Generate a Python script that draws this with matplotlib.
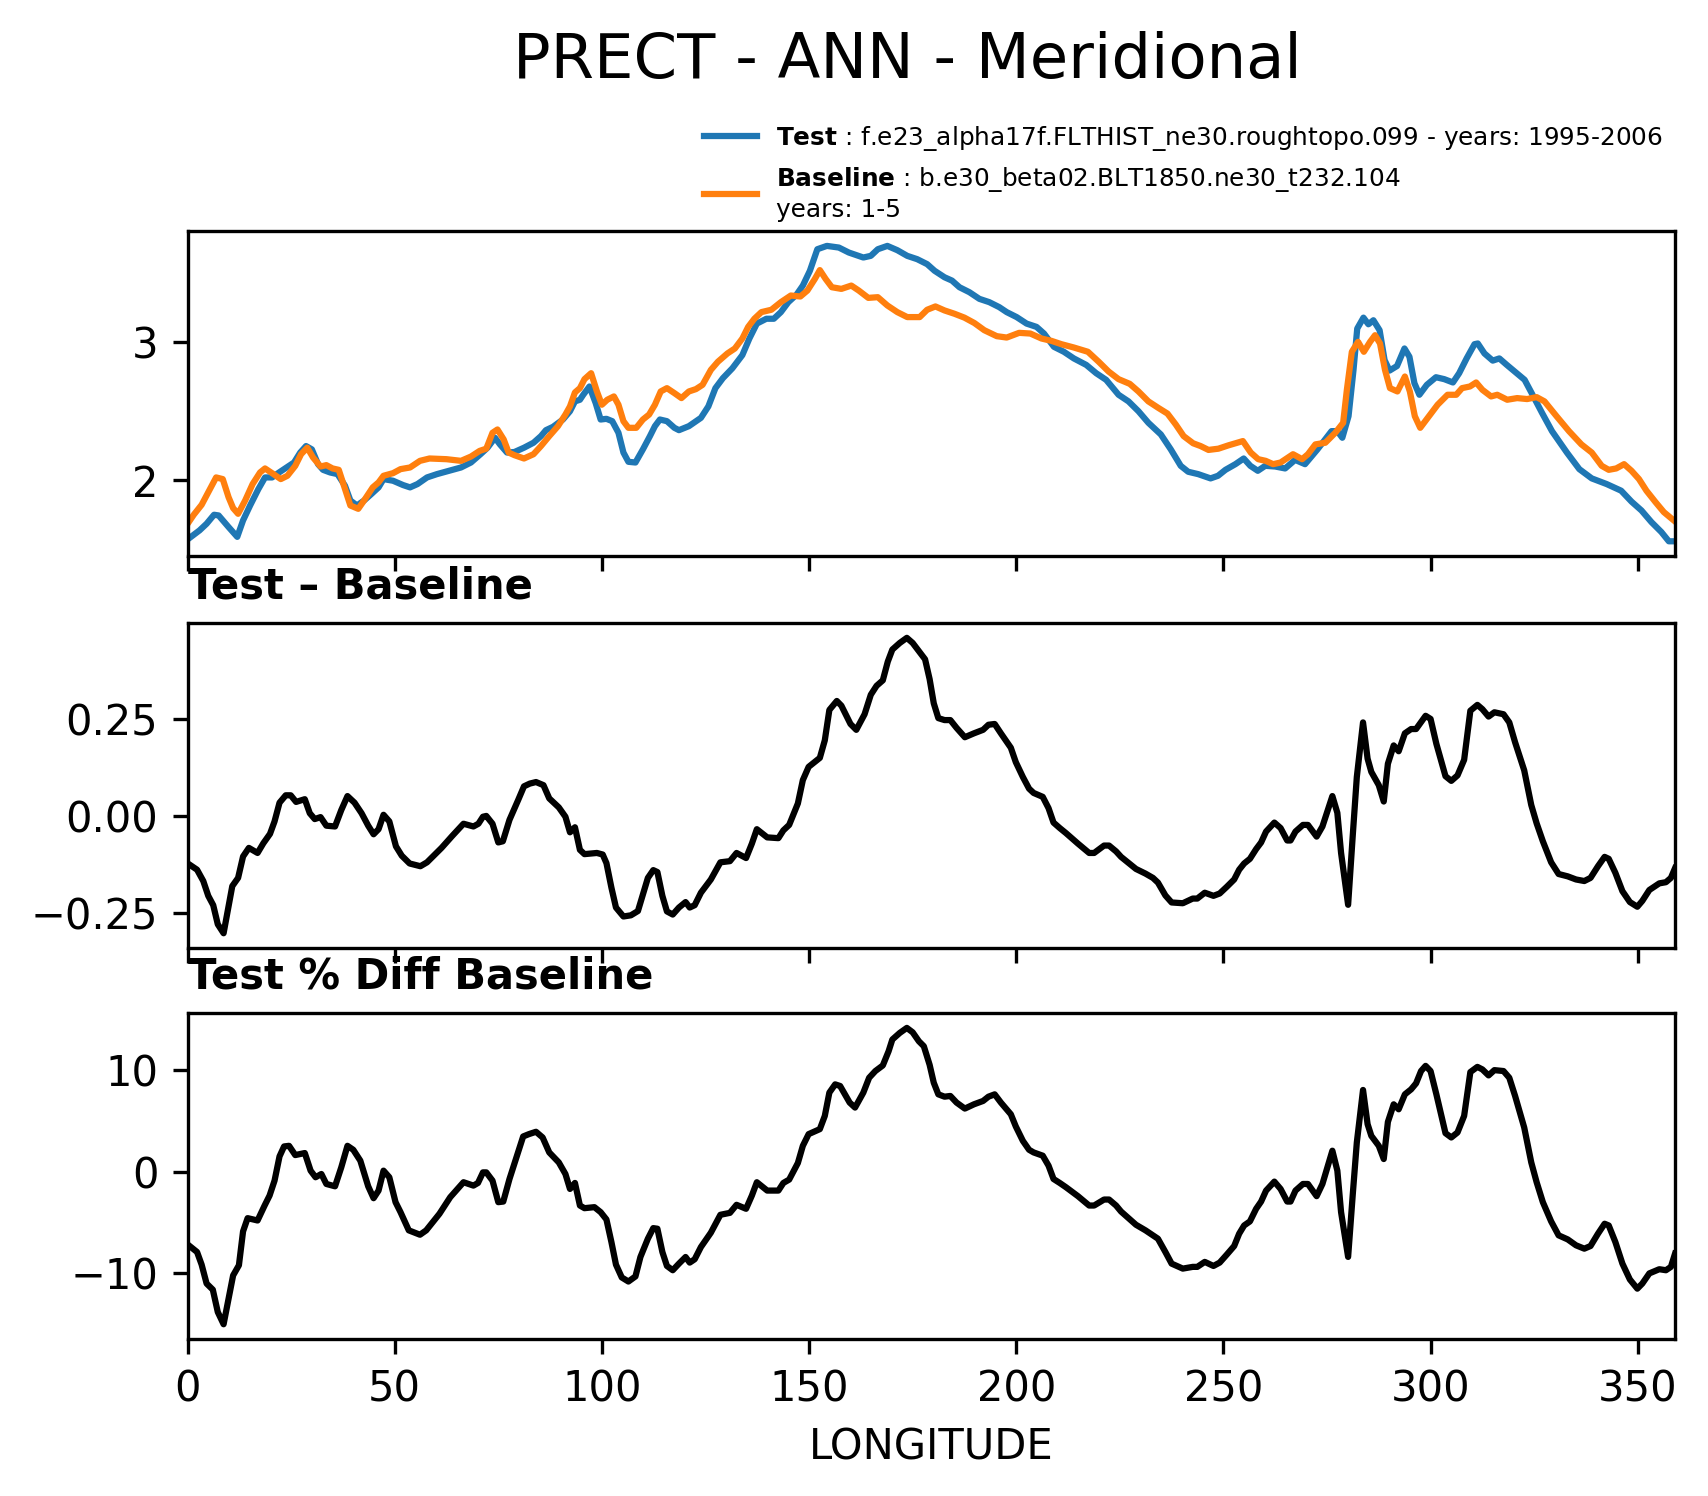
import matplotlib
matplotlib.use('Agg')
import matplotlib.pyplot as plt

# values
test_lon = [0.3, 2.9, 4.6, 6.4, 7.5, 9.9, 12.0, 13.4, 15.1, 17.1, 18.7, 20.4, 22.1, 23.9, 25.7, 27.2,
            28.6, 30.0, 31.5, 32.7, 34.4, 36.2, 38.0, 39.3, 40.9, 42.6, 44.4, 46.1, 47.3, 49.6, 52.0,
            53.7, 55.5, 57.8, 60.2, 63.1, 66.0, 68.4, 70.7, 72.4, 74.2, 75.4, 77.1, 78.9, 81.2, 83.5,
            85.3, 86.5, 88.2, 90.6, 92.3, 93.5, 94.7, 95.5, 97.0, 98.5, 99.7, 101.1, 102.5, 104.0,
            105.2, 106.4, 108.1, 109.9, 111.6, 112.8, 114.0, 115.7, 117.5, 118.6, 121.0, 123.9, 125.7,
            127.4, 129.2, 131.5, 133.9, 135.6, 137.4, 139.7, 141.5, 143.2, 145.0, 147.0, 148.5, 150.2,
            152.0, 154.3, 157.2, 159.6, 163.1, 164.9, 166.6, 168.9, 171.3, 173.7, 176.1, 178.5, 180.3,
            182.7, 184.5, 186.3, 188.7, 191.1, 193.5, 195.9, 197.7, 200.1, 202.5, 204.9, 206.7, 209.1,
            211.5, 213.9, 216.9, 219.3, 221.7, 224.7, 227.1, 229.5, 231.9, 234.9, 237.3, 239.7, 241.5,
            243.9, 246.9, 248.7, 250.5, 252.9, 254.9, 256.5, 258.3, 260.1, 262.5, 264.9, 267.3, 269.7,
            272.7, 276.1, 277.5, 278.7, 280.2, 281.4, 282.3, 283.8, 285.0, 286.2, 287.7, 288.9, 290.1,
            291.9, 293.7, 294.9, 296.1, 297.3, 299.1, 301.3, 303.3, 305.4, 306.9, 308.7, 310.6, 311.4,
            313.0, 315.0, 316.6, 318.4, 320.8, 322.7, 324.4, 326.9, 329.3, 332.9, 335.9, 338.9, 342.5,
            346.0, 348.5, 350.9, 353.3, 355.7, 357.5, 358.7]
test_val = [1.577, 1.636, 1.684, 1.749, 1.744, 1.660, 1.589, 1.708, 1.816, 1.935, 2.019, 2.019, 2.055,
            2.091, 2.127, 2.199, 2.246, 2.222, 2.115, 2.074, 2.055, 2.043, 1.959, 1.852, 1.816, 1.852,
            1.900, 1.947, 2.007, 1.995, 1.964, 1.947, 1.971, 2.019, 2.043, 2.067, 2.091, 2.127, 2.187,
            2.234, 2.306, 2.258, 2.199, 2.203, 2.234, 2.270, 2.318, 2.361, 2.385, 2.438, 2.498, 2.569,
            2.581, 2.617, 2.677, 2.557, 2.438, 2.443, 2.426, 2.342, 2.199, 2.132, 2.127, 2.222, 2.318,
            2.390, 2.438, 2.426, 2.378, 2.361, 2.390, 2.450, 2.533, 2.665, 2.737, 2.809, 2.904, 3.024,
            3.132, 3.167, 3.167, 3.215, 3.287, 3.342, 3.407, 3.514, 3.670, 3.694, 3.682, 3.646, 3.610,
            3.622, 3.670, 3.694, 3.663, 3.622, 3.598, 3.562, 3.514, 3.467, 3.443, 3.395, 3.359, 3.311,
            3.287, 3.251, 3.215, 3.179, 3.132, 3.108, 3.060, 2.964, 2.928, 2.880, 2.833, 2.773, 2.725,
            2.617, 2.569, 2.498, 2.414, 2.330, 2.222, 2.103, 2.060, 2.043, 2.012, 2.031, 2.074, 2.115,
            2.156, 2.103, 2.067, 2.103, 2.098, 2.084, 2.146, 2.115, 2.222, 2.354, 2.354, 2.306, 2.462,
            2.797, 3.096, 3.175, 3.127, 3.156, 3.084, 2.868, 2.792, 2.825, 2.952, 2.892, 2.701, 2.617,
            2.689, 2.744, 2.730, 2.706, 2.773, 2.880, 2.983, 2.988, 2.916, 2.864, 2.880, 2.833, 2.773,
            2.725, 2.629, 2.486, 2.354, 2.199, 2.079, 2.012, 1.971, 1.923, 1.844, 1.780, 1.696, 1.624,
            1.557, 1.557]

base_lon = [0.3, 1.5, 3.4, 5.2, 6.9, 8.5, 9.9, 11.0, 12.2, 13.9, 15.7, 17.5, 18.7, 20.4, 22.5, 24.1,
            26.0, 27.4, 28.9, 30.3, 32.1, 33.5, 35.0, 36.5, 38.0, 39.3, 41.2, 42.6, 44.7, 46.1, 47.3,
            49.6, 51.4, 53.7, 56.1, 58.4, 62.5, 66.0, 68.4, 70.5, 72.1, 73.6, 74.8, 76.3, 77.5, 78.9,
            81.2, 83.5, 85.3, 87.3, 89.4, 91.2, 92.3, 93.5, 94.7, 95.8, 97.4, 98.8, 100.0, 101.3,
            102.9, 104.0, 105.2, 106.4, 108.3, 109.9, 111.4, 112.8, 114.2, 115.7, 117.5, 119.2, 121.0,
            122.7, 124.3, 126.3, 128.0, 130.3, 132.1, 133.9, 135.3, 136.8, 138.5, 140.9, 143.2, 145.6,
            147.9, 149.6, 151.4, 152.6, 154.0, 155.5, 157.8, 160.2, 162.0, 164.3, 166.6, 168.9, 171.3,
            173.7, 176.7, 178.5, 180.5, 182.7, 185.1, 187.5, 189.9, 192.3, 195.3, 197.7, 200.7, 203.4,
            206.1, 208.5, 210.9, 213.9, 217.3, 219.9, 222.3, 224.7, 227.4, 229.5, 231.9, 234.3, 236.5,
            238.5, 240.4, 242.7, 244.5, 246.4, 248.8, 251.2, 254.7, 256.6, 258.4, 260.2, 262.0, 263.8,
            266.8, 269.0, 270.4, 272.2, 274.6, 277.0, 278.9, 279.8, 281.0, 282.5, 283.9, 285.4, 286.6,
            287.8, 289.0, 290.2, 292.0, 293.8, 295.0, 296.2, 297.5, 299.3, 301.7, 304.1, 306.2, 307.6,
            309.5, 311.0, 312.5, 314.6, 316.1, 318.5, 320.9, 323.3, 325.6, 327.5, 330.4, 333.4, 336.4,
            338.9, 341.3, 343.0, 344.8, 346.7, 348.5, 350.3, 352.1, 354.3, 356.3, 358.7]
base_val = [1.696, 1.749, 1.821, 1.923, 2.019, 2.007, 1.876, 1.797, 1.756, 1.852, 1.971, 2.055, 2.084,
            2.050, 2.007, 2.031, 2.103, 2.187, 2.234, 2.163, 2.098, 2.108, 2.084, 2.074, 1.935, 1.816,
            1.792, 1.852, 1.947, 1.983, 2.031, 2.050, 2.079, 2.091, 2.139, 2.156, 2.151, 2.139, 2.170,
            2.211, 2.227, 2.342, 2.366, 2.294, 2.199, 2.180, 2.156, 2.187, 2.246, 2.318, 2.390, 2.474,
            2.533, 2.634, 2.665, 2.730, 2.773, 2.641, 2.545, 2.581, 2.605, 2.545, 2.426, 2.378, 2.378,
            2.438, 2.474, 2.545, 2.641, 2.665, 2.629, 2.593, 2.641, 2.658, 2.689, 2.797, 2.856, 2.916,
            2.952, 3.024, 3.108, 3.167, 3.215, 3.232, 3.287, 3.335, 3.328, 3.371, 3.455, 3.519, 3.455,
            3.395, 3.383, 3.407, 3.371, 3.318, 3.323, 3.263, 3.215, 3.179, 3.179, 3.232, 3.256, 3.227,
            3.203, 3.175, 3.136, 3.084, 3.041, 3.031, 3.065, 3.060, 3.024, 3.007, 2.983, 2.959, 2.928,
            2.856, 2.785, 2.730, 2.696, 2.641, 2.569, 2.522, 2.481, 2.402, 2.318, 2.266, 2.246, 2.218,
            2.227, 2.251, 2.282, 2.199, 2.151, 2.139, 2.115, 2.127, 2.187, 2.151, 2.187, 2.258, 2.270,
            2.342, 2.414, 2.653, 2.928, 3.000, 2.928, 3.000, 3.048, 2.988, 2.797, 2.665, 2.641, 2.749,
            2.641, 2.462, 2.378, 2.450, 2.545, 2.617, 2.617, 2.665, 2.677, 2.706, 2.653, 2.605, 2.617,
            2.581, 2.593, 2.586, 2.600, 2.569, 2.462, 2.354, 2.258, 2.199, 2.103, 2.074, 2.084, 2.115,
            2.067, 2.007, 1.923, 1.840, 1.768, 1.708]

diff_lon = [0.5, 2.3, 3.8, 5.0, 6.2, 7.3, 8.7, 10.8, 12.2, 13.4, 14.8, 16.9, 18.3, 19.9, 21.0, 22.2,
            23.7, 24.9, 26.2, 28.3, 29.5, 30.7, 32.1, 33.5, 35.6, 37.1, 38.6, 40.3, 42.0, 43.6, 44.9,
            46.1, 47.3, 48.7, 50.3, 51.7, 53.6, 56.2, 57.8, 61.3, 63.9, 66.6, 69.0, 70.2, 71.3, 72.1,
            73.6, 75.0, 76.1, 77.7, 79.8, 81.2, 82.6, 84.1, 85.9, 87.3, 89.6, 91.2, 92.3, 93.5, 94.7,
            95.8, 98.8, 100.2, 101.1, 102.3, 103.4, 105.2, 107.0, 108.7, 109.9, 111.1, 112.4, 113.4,
            114.6, 115.7, 117.1, 118.6, 120.2, 121.2, 122.4, 123.9, 126.3, 128.6, 130.9, 132.5, 134.8,
            136.2, 137.4, 139.9, 142.6, 143.8, 145.2, 147.3, 148.5, 149.9, 152.6, 153.8, 154.9, 156.7,
            157.8, 160.0, 161.4, 163.4, 164.9, 166.3, 167.8, 169.0, 170.1, 171.9, 173.6, 175.0, 176.5,
            178.0, 179.1, 180.1, 181.2, 182.7, 184.1, 185.6, 187.6, 189.8, 192.0, 193.3, 194.8, 196.3,
            198.7, 199.9, 201.6, 203.1, 204.2, 206.4, 207.8, 209.0, 210.5, 212.0, 214.9, 217.6, 218.8,
            221.2, 222.4, 224.1, 225.3, 228.9, 231.2, 233.0, 234.2, 236.0, 237.5, 240.2, 242.6, 243.7,
            245.5, 247.6, 249.1, 250.8, 252.6, 253.8, 255.0, 256.4, 257.9, 259.1, 260.3, 262.3, 263.8,
            265.4, 266.2, 267.4, 269.2, 270.4, 272.5, 273.9, 276.3, 277.5, 278.4, 280.1, 281.2, 282.2,
            283.7, 284.8, 285.7, 287.5, 288.7, 289.7, 291.1, 292.3, 293.8, 295.3, 296.5, 298.8, 300.0,
            301.4, 303.6, 305.0, 306.5, 308.1, 309.6, 311.3, 312.5, 314.0, 315.4, 317.6, 319.0, 320.4,
            322.6, 324.3, 325.6, 327.1, 329.1, 330.9, 333.1, 335.1, 337.1, 338.6, 340.4, 342.0, 343.0,
            344.6, 346.3, 348.1, 349.9, 351.1, 352.8, 355.2, 356.8, 358.0, 359.0]
diff_val = [-0.125, -0.138, -0.167, -0.205, -0.229, -0.278, -0.301, -0.180, -0.159, -0.104, -0.082,
            -0.095, -0.070, -0.046, -0.014, 0.034, 0.053, 0.053, 0.036, 0.043, 0.007, -0.008, -0.003,
            -0.025, -0.027, 0.015, 0.051, 0.034, 0.007, -0.025, -0.047, -0.034, 0.003, -0.014, -0.078,
            -0.102, -0.122, -0.129, -0.119, -0.082, -0.051, -0.020, -0.027, -0.020, -0.002, 0.000,
            -0.020, -0.068, -0.065, -0.010, 0.041, 0.076, 0.083, 0.087, 0.079, 0.045, 0.022, -0.002,
            -0.042, -0.029, -0.087, -0.098, -0.095, -0.099, -0.121, -0.184, -0.235, -0.258, -0.255,
            -0.244, -0.201, -0.159, -0.139, -0.144, -0.205, -0.245, -0.253, -0.235, -0.221, -0.235,
            -0.229, -0.197, -0.163, -0.119, -0.116, -0.095, -0.108, -0.071, -0.034, -0.055, -0.057,
            -0.037, -0.023, 0.032, 0.092, 0.126, 0.149, 0.194, 0.272, 0.295, 0.283, 0.236, 0.221,
            0.261, 0.311, 0.334, 0.348, 0.396, 0.427, 0.444, 0.457, 0.444, 0.423, 0.402, 0.351, 0.289,
            0.251, 0.246, 0.246, 0.226, 0.202, 0.212, 0.221, 0.234, 0.236, 0.212, 0.175, 0.138, 0.100,
            0.070, 0.059, 0.049, 0.020, -0.017, -0.031, -0.044, -0.071, -0.095, -0.095, -0.076, -0.076,
            -0.091, -0.105, -0.136, -0.148, -0.159, -0.171, -0.204, -0.222, -0.224, -0.212, -0.212,
            -0.197, -0.205, -0.199, -0.182, -0.163, -0.138, -0.122, -0.110, -0.085, -0.068, -0.040,
            -0.017, -0.031, -0.063, -0.063, -0.040, -0.023, -0.023, -0.053, -0.027, 0.051, 0.008,
            -0.095, -0.228, -0.053, 0.100, 0.240, 0.147, 0.113, 0.079, 0.037, 0.134, 0.181, 0.166,
            0.212, 0.223, 0.223, 0.257, 0.249, 0.185, 0.102, 0.090, 0.104, 0.144, 0.270, 0.285, 0.274,
            0.255, 0.266, 0.261, 0.240, 0.189, 0.117, 0.028, -0.019, -0.065, -0.119, -0.149, -0.155,
            -0.163, -0.167, -0.159, -0.129, -0.105, -0.110, -0.146, -0.193, -0.221, -0.233, -0.218,
            -0.190, -0.173, -0.170, -0.159, -0.134]

pct_lon = [0.5, 2.3, 3.4, 4.6, 6.1, 7.3, 8.7, 9.9, 11.0, 12.4, 13.4, 14.5, 16.9, 18.6, 19.8, 21.0,
           22.2, 23.3, 24.5, 26.0, 28.3, 29.7, 30.9, 32.3, 33.5, 35.6, 37.1, 38.6, 40.0, 41.7, 43.6,
           44.9, 46.1, 47.3, 48.7, 50.2, 51.4, 53.4, 56.1, 57.6, 60.8, 63.4, 66.6, 69.0, 70.1, 71.3,
           72.1, 73.6, 75.0, 76.2, 77.7, 79.5, 81.0, 82.4, 84.1, 85.7, 87.3, 89.6, 91.2, 92.3, 93.5,
           94.7, 95.8, 98.2, 99.7, 101.1, 102.3, 103.4, 104.8, 106.4, 108.1, 109.3, 111.1, 112.4,
           113.4, 114.6, 115.7, 117.1, 118.6, 120.2, 121.2, 122.4, 123.9, 126.3, 128.6, 130.9, 132.5,
           134.8, 136.2, 137.4, 139.9, 142.6, 143.8, 145.2, 147.3, 148.5, 149.9, 152.6, 153.8, 154.9,
           156.3, 157.5, 159.8, 161.1, 163.1, 164.5, 166.0, 167.8, 169.2, 170.1, 171.9, 173.6, 175.0,
           176.5, 177.7, 179.1, 180.1, 181.2, 182.7, 184.1, 185.6, 187.6, 189.8, 192.0, 193.3, 194.8,
           196.3, 198.7, 199.9, 201.6, 203.1, 204.2, 206.4, 207.8, 209.0, 210.5, 212.0, 214.9, 217.6,
           218.8, 221.2, 222.4, 224.1, 225.3, 228.9, 231.2, 233.0, 234.2, 236.0, 237.5, 240.2, 242.6,
           243.7, 245.5, 247.6, 249.1, 250.8, 252.6, 253.8, 255.0, 256.4, 257.9, 259.1, 260.3, 262.3,
           263.8, 265.4, 266.2, 267.4, 269.2, 270.4, 272.5, 273.9, 276.3, 277.5, 278.4, 280.1, 281.2,
           282.2, 283.7, 284.8, 285.7, 287.5, 288.7, 289.7, 291.1, 292.3, 293.8, 295.3, 296.5, 297.7,
           298.8, 300.0, 301.4, 303.6, 305.0, 306.5, 308.1, 309.6, 311.3, 312.5, 314.0, 315.4, 317.6,
           319.0, 320.4, 322.6, 324.3, 325.6, 327.1, 329.1, 330.9, 333.1, 335.1, 337.1, 338.6, 340.4,
           342.0, 343.0, 344.6, 346.3, 348.1, 349.9, 351.1, 352.8, 355.2, 356.8, 358.0, 359.0]
pct_val = [-7.31, -7.90, -9.14, -11.0, -11.6, -13.8, -15.0, -12.5, -10.2, -9.2, -5.87, -4.57, -4.80,
           -3.33, -2.35, -0.88, 1.50, 2.48, 2.54, 1.63, 1.83, 0.10, -0.55, -0.23, -1.21, -1.44, 0.42,
           2.54, 2.15, 1.08, -1.44, -2.61, -1.86, 0.10, -0.55, -3.00, -3.98, -5.77, -6.20, -5.77,
           -4.14, -2.51, -1.04, -1.37, -1.11, -0.07, -0.07, -0.88, -3.00, -2.94, -0.72, 1.57, 3.46,
           3.69, 3.92, 3.36, 1.89, 0.91, -0.23, -1.70, -1.11, -3.33, -3.59, -3.49, -3.98, -4.70,
           -6.92, -9.14, -10.4, -10.8, -10.3, -8.39, -6.59, -5.55, -5.61, -7.90, -9.27, -9.69, -9.04,
           -8.39, -8.94, -8.61, -7.41, -6.00, -4.24, -4.05, -3.26, -3.65, -2.35, -1.04, -1.86, -1.86,
           -1.11, -0.78, 0.85, 2.54, 3.69, 4.18, 5.48, 7.77, 8.58, 8.42, 6.79, 6.30, 7.77, 9.23, 9.89,
           10.44, 11.84, 12.99, 13.64, 14.13, 13.70, 12.82, 12.33, 10.5, 8.74, 7.60, 7.37, 7.44, 6.79,
           6.20, 6.62, 6.95, 7.37, 7.60, 6.79, 5.64, 4.44, 3.03, 2.15, 1.89, 1.57, 0.59, -0.72, -1.11,
           -1.53, -2.41, -3.33, -3.33, -2.74, -2.74, -3.33, -3.92, -5.22, -5.77, -6.26, -6.59, -7.90,
           -9.04, -9.53, -9.36, -9.36, -8.87, -9.27, -8.94, -8.16, -7.31, -6.10, -5.29, -4.89, -3.65,
           -2.94, -1.86, -0.98, -1.70, -2.94, -2.94, -1.86, -1.21, -1.21, -2.41, -1.21, 2.06, 0.10,
           -3.98, -8.38, -2.35, 2.87, 8.03, 4.67, 3.52, 2.54, 1.24, 4.89, 6.62, 6.13, 7.60, 8.09, 8.68,
           9.89, 10.4, 9.89, 7.60, 3.78, 3.36, 3.85, 5.48, 9.79, 10.3, 10.05, 9.46, 9.98, 9.89, 9.23,
           7.44, 4.34, 0.91, -1.04, -3.00, -4.89, -6.26, -6.66, -7.24, -7.57, -7.31, -6.10, -5.12,
           -5.29, -6.92, -9.04, -10.6, -11.5, -11.0, -10.0, -9.59, -9.69, -9.36, -8.06]

test_label = r'$\bf{Test}$ : f.e23_alpha17f.FLTHIST_ne30.roughtopo.099 - years: 1995-2006'
base_label = r'$\bf{Baseline}$ : b.e30_beta02.BLT1850.ne30_t232.104' + '\nyears: 1-5'
xticks = [0, 50, 100, 150, 200, 250, 300, 350]

fig = plt.figure(figsize=(1708 / 300, 1496 / 300), dpi=300)

left, width = 0.1098, 0.8709
ax1 = fig.add_axes([left, 0.6283, width, 0.2172])
ax2 = fig.add_axes([left, 0.3663, width, 0.2172])
ax3 = fig.add_axes([left, 0.1049, width, 0.2179])

ax1.plot(test_lon, test_val, color='tab:blue', lw=1.5, label=test_label)
ax1.plot(base_lon, base_val, color='tab:orange', lw=1.5, label=base_label)
ax1.set_yticks([2, 3])
ax1.legend(loc='lower right', bbox_to_anchor=(1.007, 0.96), frameon=False, fontsize=5.95,
           handlelength=2.1)

ax2.plot(diff_lon, diff_val, color='black', lw=1.5)
ax2.set_yticks([-0.25, 0.0, 0.25])
ax2.set_title('Test \u2013 Baseline', loc='left', fontweight='bold', fontsize=10)

ax3.plot(pct_lon, pct_val, color='black', lw=1.5)
ax3.set_yticks([-10, 0, 10])
ax3.set_title('Test % Diff Baseline', loc='left', fontweight='bold', fontsize=10)
ax3.set_xlabel('LONGITUDE', fontsize=10)

for ax in (ax1, ax2, ax3):
    ax.set_xlim(0, 359)
    ax.set_xticks(xticks)
    ax.tick_params(labelsize=10)
ax1.set_xticklabels([])
ax2.set_xticklabels([])

fig.text(907 / 1708, 0.979, 'PRECT - ANN - Meridional', ha='center', va='top', fontsize=15)

fig.savefig('out.png', dpi=300)
